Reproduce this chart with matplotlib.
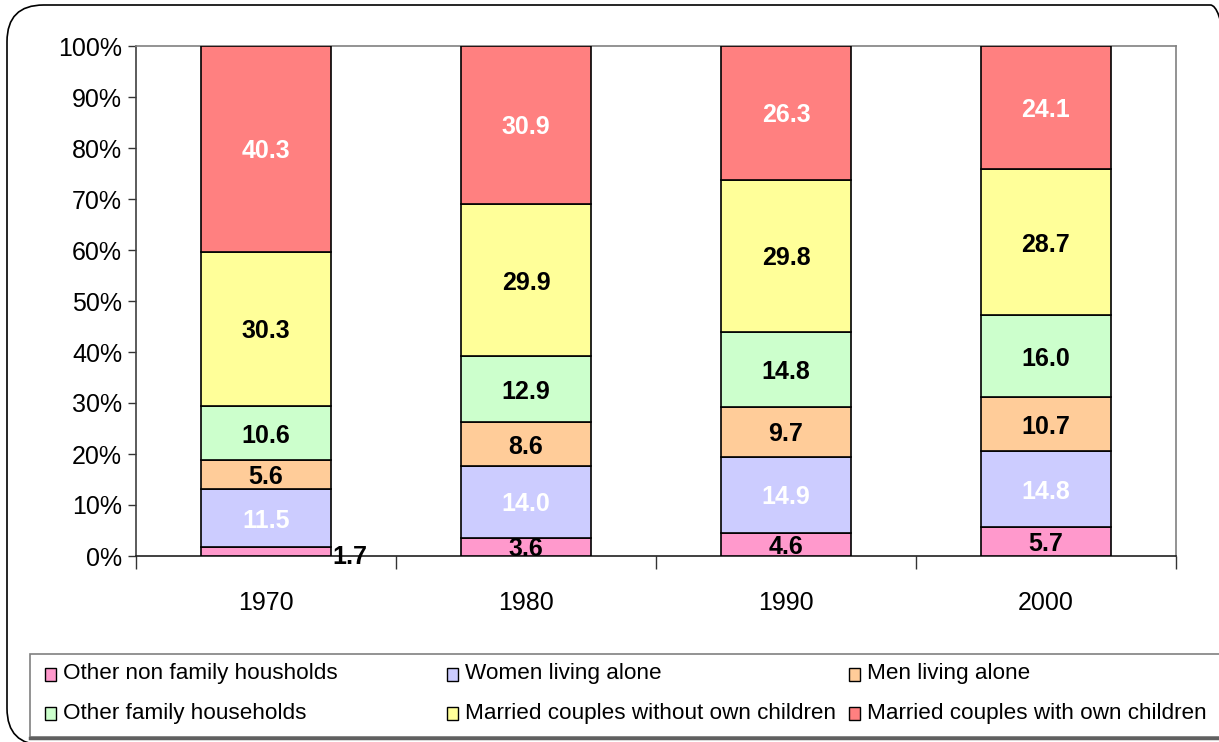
import matplotlib.pyplot as plt
from matplotlib.patches import FancyBboxPatch, Rectangle
from matplotlib.lines import Line2D
import numpy as np

plt.rcParams['font.family'] = ['Liberation Sans', 'DejaVu Sans']

# data
years = ['1970', '1980', '1990', '2000']
series = ['Other non family housholds', 'Women living alone', 'Men living alone',
          'Other family households', 'Married couples without own children',
          'Married couples with own children']
other_nonfamily = [1.7, 3.6, 4.6, 5.7]
women_alone = [11.5, 14.0, 14.9, 14.8]
men_alone = [5.6, 8.6, 9.7, 10.7]
other_family = [10.6, 12.9, 14.8, 16.0]
married_no_kids = [30.3, 29.9, 29.8, 28.7]
married_kids = [40.3, 30.9, 26.3, 24.1]

colors = ['#FF99CC', '#CCCCFF', '#FFCC99', '#CCFFCC', '#FFFF99', '#FF8080']
label_colors = ['black', 'white', 'black', 'black', 'black', 'white']

vals = np.array([other_nonfamily, women_alone, men_alone, other_family,
                 married_no_kids, married_kids])
shares = vals / vals.sum(axis=0) * 100

W, H = 1219, 742
fig = plt.figure(figsize=(W / 100, H / 100), dpi=100)

# outer rounded frame
frame = FancyBboxPatch((7 / W, 1 - 745 / H), 1240 / W, 740 / H,
                       boxstyle='round,pad=0,rounding_size=0.03',
                       transform=fig.transFigure, fill=False,
                       edgecolor='black', linewidth=1.2, mutation_aspect=W / H)
fig.patches.append(frame)

ax = fig.add_axes([136 / W, (H - 556) / H, 1040 / W, 510 / H])
x = np.arange(len(years))
bottom = np.zeros(len(years))
for i, name in enumerate(series):
    ax.bar(x, shares[i], 0.5, bottom=bottom, color=colors[i],
           edgecolor='black', linewidth=1.2, label=name, zorder=3)
    for j in range(len(years)):
        yc = bottom[j] + shares[i][j] / 2
        if i == 0 and j == 0:
            # small segment: label sits beside the bar
            ax.annotate(f'{vals[i][j]:.1f}', (x[j] + 0.25, yc), xytext=(1, -2),
                        textcoords='offset points', ha='left', va='center_baseline',
                        fontsize=18, fontweight='bold', color='black', zorder=5,
                        annotation_clip=False)
        else:
            ax.text(x[j], yc, f'{vals[i][j]:.1f}', ha='center', va='center_baseline',
                    fontsize=18, fontweight='bold', color=label_colors[i], zorder=5)
    bottom += shares[i]

ax.set_xlim(-0.5, 3.5)
ax.set_ylim(0, 100)
ax.set_yticks(np.arange(0, 101, 10))
ax.set_yticklabels([f'{v}%' for v in range(0, 101, 10)], fontsize=18)
ax.tick_params(axis='y', direction='out', length=6, width=1, pad=4, colors='#333333',
               labelcolor='black')
ax.set_xticks(np.arange(-0.5, 3.6, 1))
ax.set_xticklabels([])
ax.tick_params(axis='x', which='major', direction='out', length=9, width=1, colors='#333333')
ax.set_xticks(x, minor=True)
ax.set_xticklabels(years, minor=True, fontsize=18)
ax.tick_params(axis='x', which='minor', length=0, pad=25)

for s in ['top', 'right']:
    ax.spines[s].set_color('#808080')
    ax.spines[s].set_linewidth(1.2)
ax.spines['left'].set_color('#404040')
ax.spines['bottom'].set_color('#202020')
ax.spines['left'].set_linewidth(1.2)
ax.spines['bottom'].set_linewidth(1.2)

# legend box
lx0, ly0, ly1 = 30, 654, 737
box = Rectangle((lx0 / W, 1 - ly1 / H), (1260 - lx0) / W, (ly1 - ly0) / H,
                transform=fig.transFigure, fill=False, edgecolor='#808080', linewidth=1.2)
fig.patches.append(box)
fig.add_artist(Line2D([lx0 / W, 1], [1 - (ly1 + 1) / H] * 2, color='#606060',
                      linewidth=2.5, transform=fig.transFigure))

col_x = [45, 447, 849]
row_y = [674, 713]
for i, name in enumerate(series):
    cx = col_x[i % 3]
    cy = row_y[i // 3]
    fig.patches.append(Rectangle((cx / W, 1 - (cy + 7) / H), 11 / W, 13 / H,
                                 transform=fig.transFigure, facecolor=colors[i],
                                 edgecolor='black', linewidth=1))
    fig.text((cx + 18) / W, 1 - cy / H, name, fontsize=16.2, ha='left', va='center')

fig.savefig('out.png', dpi=100)
